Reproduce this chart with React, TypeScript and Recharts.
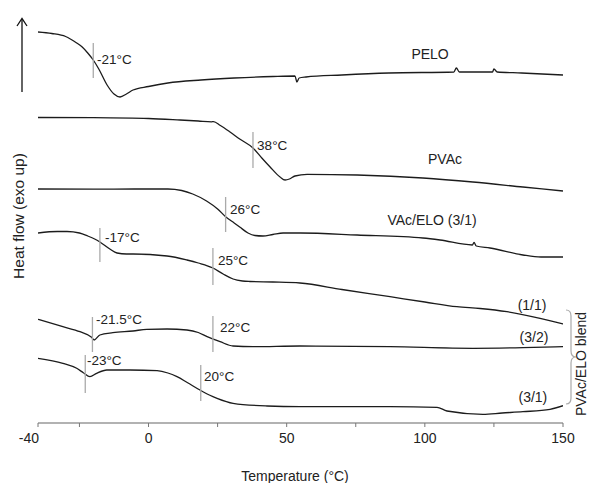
import React from 'react';
import { LineChart, Line, XAxis, YAxis, ReferenceLine, ReferenceDot } from 'recharts';

const FONT = '"Liberation Sans", Arial, Helvetica, sans-serif';

// ---- DSC curves: temperature (°C) and heat flow (a.u., exo up) ----
const peloT = [-40, -35, -30, -26, -24, -22, -20, -18, -15, -12.5, -10.3, -8, -5.6, 0, 7, 19, 31, 45, 53, 53.7, 54.5, 57, 70, 87, 110.5, 111.4, 112.5, 118, 124.5, 125, 126.2, 135, 150];
const peloHF = [391, 389.5, 386.5, 380, 376, 370, 363, 354, 338, 329, 326, 329, 333, 336.5, 340, 343, 345, 346.5, 347, 341, 345, 346, 348, 350, 351, 355, 351, 351, 351, 354, 351, 350, 348];

const pvacT = [-40, -20, 0, 11.4, 18, 22.8, 23.5, 26, 29.5, 33, 37.8, 41, 44, 47.6, 49.4, 51, 53, 57.4, 75.5, 99.3, 117.4, 135.5, 150];
const pvacHF = [305.5, 305.3, 304.5, 303, 302, 301.2, 301.4, 297.5, 291, 284, 275, 265, 256, 246, 243, 244, 247, 248.7, 248, 245, 241, 236, 232];

const vacEloT = [-40, -20, -5, 7, 12, 16, 21, 25, 28, 31, 33, 36, 38.5, 41.4, 45, 48.7, 55, 75.5, 99.3, 105.5, 117.2, 117.8, 118.6, 123.6, 135.5, 142, 150];
const vacEloHF = [234, 233.8, 234, 234, 232.5, 229, 222, 214, 206, 200, 196, 190, 187.5, 187, 188.5, 190, 190, 188, 185, 183, 178, 180.5, 177, 175, 168, 166, 166];

const blend11T = [-40, -33, -29.5, -25, -22, -19.5, -17.6, -14, -11.4, -8, -5.6, 6.7, 13.9, 18, 23.3, 27, 30.6, 34, 36.7, 45, 54.8, 70, 87.4, 100, 111.6, 120, 129.7, 141.7, 150];
const blend11HF = [190, 191.5, 191.5, 190, 187, 184, 181, 174, 170, 169, 169, 167, 163, 160, 155, 149, 144, 142, 141.5, 141, 140, 133.5, 126.3, 121, 116.3, 114.5, 111.3, 104.7, 99];

const blend32T = [-40, -31, -24.8, -20.6, -19.7, -17.6, -12.9, -5.6, -0.6, 6.7, 13.9, 18, 21.2, 25.9, 30.6, 37.8, 54.8, 87.4, 117.4, 135.5, 150];
const blend32HF = [103.7, 96.3, 91.3, 85.7, 83, 88, 90.3, 92, 93.7, 94, 93, 90.5, 86.3, 81.3, 77, 76.3, 77, 76.3, 74.7, 75.3, 76.3];

const blend31T = [-40, -31, -26, -23.6, -21.2, -18.8, -15.1, -6.7, 3.1, 7, 10.3, 14, 18.6, 22, 24.8, 30.6, 42.9, 54.8, 87.4, 104.4, 108, 121, 128, 135.5, 145.3, 150];
const blend31HF = [64.7, 59.7, 54.7, 50.3, 46.3, 49.7, 53, 53, 52.3, 50, 46.3, 40.5, 33, 28, 24.7, 19.7, 17, 16.3, 16.3, 15.7, 12, 8.7, 10, 11.3, 13.7, 17.3];

// ---- curve name labels ----
const curveNames = ['PELO', 'PVAc', 'VAc/ELO (3/1)', '(1/1)', '(3/2)', '(3/1)'];
const curveLabelT = [101.9, 107.3, 102.6, 138.8, 139.5, 139.1];
const curveLabelHF = [369, 264, 203, 118, 86, 26];

// ---- glass transition markers ----
const tgLabels = ['-21°C', '38°C', '26°C', '-17°C', '25°C', '-21.5°C', '22°C', '-23°C', '20°C'];
const tgT = [-20.0, 37.8, 27.9, -17.6, 23.3, -20.3, 23.3, -22.9, 18.9];
const tgTop = [380, 291, 226, 195, 175, 106, 107, 68, 58];
const tgBottom = [345, 255, 191, 161, 138, 71, 71, 30, 22];
const tgLabelT = [-18.65, 39.3, 29.5, -15.75, 25.1, -19.0, 25.9, -22.3, 20.1];
const tgLabelHF = [364, 278, 214, 186, 163, 104, 96, 63, 47];

// ---- axis ticks ----
const xTicks = [-40, -25, 0, 25, 50, 75, 100, 125, 150];
const xTickLabels = ['-40', '', '0', '', '50', '', '100', '', '150'];

const toSeries = (t: number[], v: number[]) => t.map((x, i) => ({ t: x, hf: v[i] }));
const curves = [
  toSeries(peloT, peloHF),
  toSeries(pvacT, pvacHF),
  toSeries(vacEloT, vacEloHF),
  toSeries(blend11T, blend11HF),
  toSeries(blend32T, blend32HF),
  toSeries(blend31T, blend31HF),
];

const XTick = (props: any) => {
  const { x, y, payload } = props;
  const idx = xTicks.indexOf(payload.value);
  const text = idx >= 0 ? xTickLabels[idx] : '';
  if (!text) return null;
  const isFirst = payload.value === -40;
  return (
    <text
      x={isFirst ? x + 1 : x}
      y={y}
      dy="0.71em"
      textAnchor={isFirst ? 'end' : 'middle'}
      fontSize={14}
      fontFamily={FONT}
      fill="#222"
    >
      {text}
    </text>
  );
};

const makeLabel = (text: string, anchor: 'start' | 'middle', size: number) => (p: any) => {
  const vb = p.viewBox || {};
  const cx = (vb.x ?? 0) + (vb.width ?? 0) / 2;
  const cy = (vb.y ?? 0) + (vb.height ?? 0) / 2;
  return (
    <text x={cx} y={cy} dy="0.36em" textAnchor={anchor} fontSize={size} fontFamily={FONT} fill="#222">
      {text}
    </text>
  );
};

export default function App() {
  return (
    <div style={{ position: 'absolute', left: 0, top: 0, width: 590, height: 483, background: '#fff' }}>
      <LineChart width={590} height={483} margin={{ top: 10, right: 27, bottom: 30, left: 38 }}>
        <XAxis
          dataKey="t"
          type="number"
          domain={[-40, 150]}
          ticks={xTicks}
          tick={<XTick />}
          tickSize={4}
          tickMargin={6}
          height={30}
          allowDataOverflow
          axisLine={{ stroke: '#666', strokeWidth: 1.2 }}
          tickLine={{ stroke: '#777', strokeWidth: 1 }}
        />
        <YAxis
          type="number"
          domain={[0, 413]}
          width={0}
          tick={false}
          tickLine={false}
          allowDataOverflow
          axisLine={{ stroke: '#666', strokeWidth: 1.2 }}
        />
        {curves.map((d, i) => (
          <Line
            key={'c' + i}
            data={d}
            dataKey="hf"
            type="monotone"
            dot={false}
            activeDot={false}
            stroke="#1c1c1c"
            strokeWidth={1.3}
            isAnimationActive={false}
          />
        ))}
        {tgT.map((t, i) => (
          <ReferenceLine
            key={'tg' + i}
            segment={[{ x: t, y: tgTop[i] }, { x: t, y: tgBottom[i] }]}
            stroke="#aaa"
            strokeWidth={1.3}
          />
        ))}
        {tgLabels.map((s, i) => (
          <ReferenceDot
            key={'tl' + i}
            x={tgLabelT[i]}
            y={tgLabelHF[i]}
            r={0}
            fill="none"
            stroke="none"
            label={makeLabel(s, 'start', 13.5)}
          />
        ))}
        {curveNames.map((s, i) => (
          <ReferenceDot
            key={'cl' + i}
            x={curveLabelT[i]}
            y={curveLabelHF[i]}
            r={0}
            fill="none"
            stroke="none"
            label={makeLabel(s, 'middle', 14)}
          />
        ))}
      </LineChart>
      <svg width={590} height={483} style={{ position: 'absolute', left: 0, top: 0, pointerEvents: 'none' }}>
        <line x1={22} y1={92} x2={22} y2={19} stroke="#111" strokeWidth={1.3} />
        <polyline points="17,26 22,18.5 27,26" fill="none" stroke="#111" strokeWidth={1.3} />
        <text transform="translate(24,216) rotate(-90)" textAnchor="middle" fontSize={15.5} fontFamily={FONT} fill="#222">
          Heat flow (exo up)
        </text>
        <text x={295} y={481} textAnchor="middle" fontSize={14} fontFamily={FONT} fill="#222">
          Temperature (°C)
        </text>
        <path
          d="M566,310 Q571,310 571,316 L571,351 Q571,357 576,357 Q571,357 571,363 L571,398 Q571,404 566,404"
          fill="none"
          stroke="#aaa"
          strokeWidth={1.2}
        />
        <text transform="translate(586,364) rotate(-90)" textAnchor="middle" fontSize={14} fontFamily={FONT} fill="#222">
          PVAc/ELO blend
        </text>
      </svg>
    </div>
  );
}
